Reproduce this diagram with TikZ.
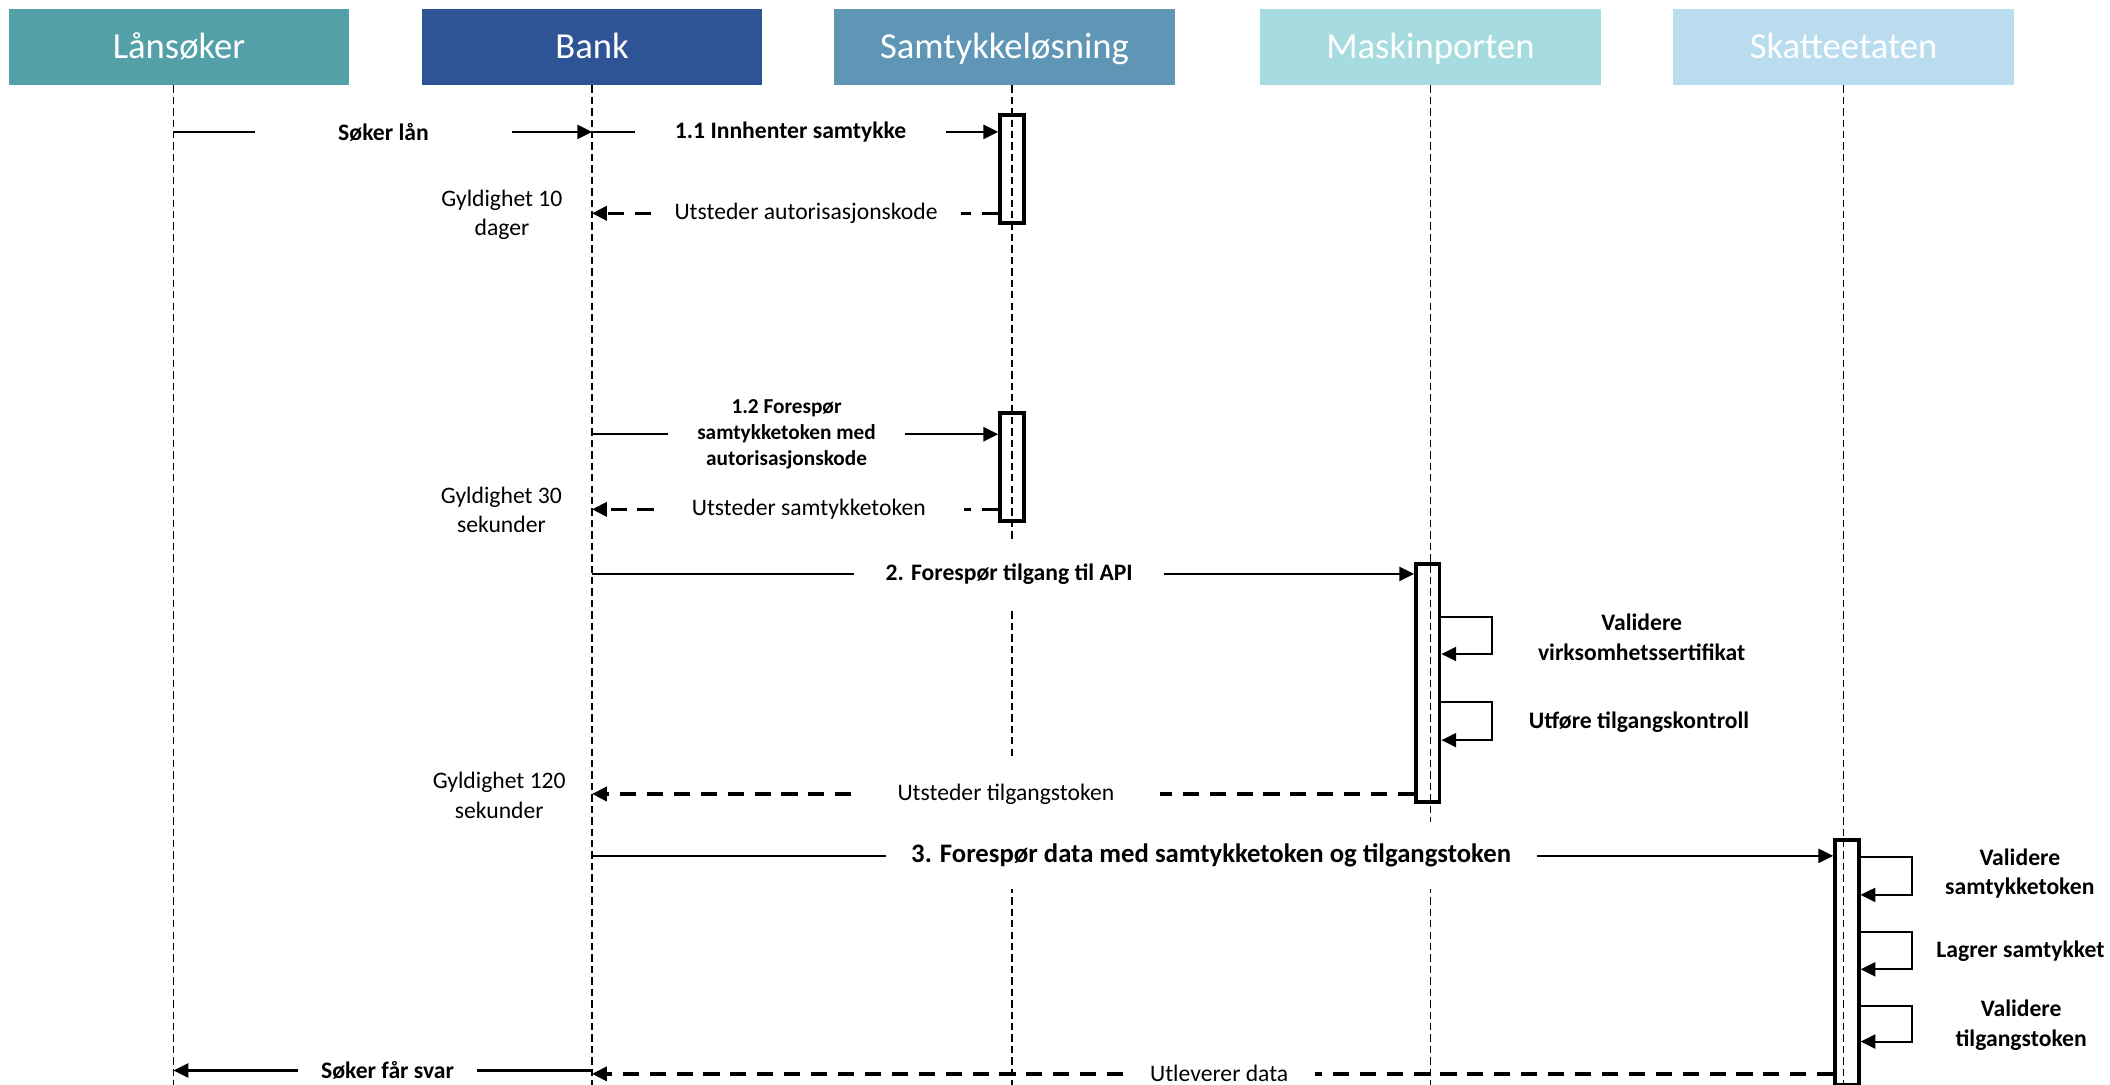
\documentclass[tikz,border=0pt]{standalone}
\usepackage{fontspec}
\setmainfont{Carlito}
\usetikzlibrary{arrows.meta,positioning}

\definecolor{colLaan}{RGB}{83,160,169}
\definecolor{colBank}{RGB}{46,84,150}
\definecolor{colSamt}{RGB}{95,150,182}
\definecolor{colMask}{RGB}{166,220,223}
\definecolor{colSkatt}{RGB}{185,221,238}

\begin{document}
\begin{tikzpicture}[
        x=0.02cm, y=-0.02cm,
        head node/.style={rectangle, minimum width=5.06cm, minimum height=1.12cm,
                text height=9.8pt, text depth=0pt,
                text=white, font=\fontsize{15.5}{18}\selectfont},
        life line/.style={line width=0.6pt, dash pattern=on 0.11cm off 0.06cm},
        act box/.style={draw, line width=1.6pt, minimum width=0.35cm, inner sep=0pt},
        msg label/.style={fill=white, inner sep=0pt, minimum height=1cm, align=center,
                font=\fontsize{10}{12.5}\selectfont},
        bold label/.style={msg label, font=\fontsize{10}{12.5}\selectfont\bfseries},
        note/.style={align=center, font=\fontsize{10}{12.5}\selectfont},
        side label/.style={align=center, font=\fontsize{10}{12.5}\selectfont\bfseries},
        msg line/.style={line width=0.85pt},
        return line/.style={line width=1.4pt, dash pattern=on 0.24cm off 0.16cm},
        arrow end/.style={-{Triangle[length=0.22cm,width=0.21cm]}},
    ]
    \useasboundingbox (0,0) rectangle (1568,806);

    % Headers and lifelines
    \foreach \n/\t/\c/\x in {laan/Lånsøker/colLaan/133, bank/Bank/colBank/440,
            samt/Samtykkeløsning/colSamt/746.5, mask/Maskinporten/colMask/1063,
            skatt/Skatteetaten/colSkatt/1370} {
            \node[head node, fill=\c] (\n) at (\x,35) {\t};
        }
    \foreach \n/\x in {laan/129, bank/440, samt/752, mask/1063, skatt/1370} {
            \coordinate (l-\n) at (\x,0);
            \draw[life line] (l-\n |- \n.south) -- (\x,806);
        }

    % Activation boxes
    \node[act box, minimum height=1.6cm] (act1) at (752,125.5) {};
    \node[act box, minimum height=1.6cm] (act2) at (752,347) {};
    \node[act box, minimum height=3.54cm] (act3) at (1061,507.5) {};
    \node[act box, minimum height=3.64cm] (act4) at (1372.5,715) {};

    % Søker lån
    \node[bold label, minimum width=3.8cm] (m1) at (285,98) {Søker lån};
    \draw[msg line] (l-laan |- m1) -- (m1.west);
    \draw[msg line, arrow end] (m1.east) -- (l-bank |- m1);

    % 1.1
    \node[bold label, minimum width=4.62cm] (m2) at (587.5,98) {1.1 Innhenter samtykke};
    \draw[msg line] (l-bank |- m2) -- (m2.west);
    \draw[msg line, arrow end] (m2.east) -- (act1.west |- m2);

    \node[msg label, minimum width=4.6cm] (r1) at (599,158.5) {Utsteder autorisasjonskode};
    \draw[return line] (act1.west |- r1) -- (r1.east);
    \draw[return line, arrow end] (r1.west) -- (l-bank |- r1);
    \node[note] (g1) at (373,159.5) {Gyldighet 10\\dager};

    % 1.2
    \node[bold label, minimum width=3.5cm, font=\fontsize{9}{11}\selectfont\bfseries]
        (m3) at (584.5,322.7) {1.2 Forespør\\samtykketoken med\\autorisasjonskode};
    \draw[msg line] (l-bank |- m3) -- (m3.west);
    \draw[msg line, arrow end] (m3.east) -- (act2.west |- m3);

    \node[msg label, minimum width=4.6cm] (r2) at (601,378.5) {Utsteder samtykketoken};
    \draw[return line] (act2.west |- r2) -- (r2.east);
    \draw[return line, arrow end] (r2.west) -- (l-bank |- r2);
    \node[note] (g2) at (372.6,379) {Gyldighet 30\\sekunder};

    % 2.
    \node[bold label, minimum width=4.6cm] (m4) at (750,426.5) {2. Forespør tilgang til API};
    \draw[msg line] (l-bank |- m4) -- (m4.west);
    \draw[msg line, arrow end] (m4.east) -- (act3.west |- m4);

    \draw[msg line, arrow end] (act3.east |- 0,458.5) -- ++(37.5,0) |- (act3.east |- 0,486);
    \node[side label] (v1) at (1220,473.5) {Validere\\virksomhetssertifikat};
    \draw[msg line, arrow end] (act3.east |- 0,522) -- ++(37.5,0) |- (act3.east |- 0,550);
    \node[side label] (v2) at (1218,537) {Utføre tilgangskontroll};

    \node[msg label, minimum width=4.58cm] (r3) at (747.5,590) {Utsteder tilgangstoken};
    \draw[return line] (act3.west |- r3) -- (r3.east);
    \draw[return line, arrow end] (r3.west) -- (l-bank |- r3);
    \node[note] (g3) at (371,591) {Gyldighet 120\\sekunder};

    % 3.
    \node[bold label, minimum width=9.66cm, font=\fontsize{11.3}{13.5}\selectfont\bfseries]
        (m5) at (900,636) {3. Forespør data med samtykketoken og tilgangstoken};
    \draw[msg line] (l-bank |- m5) -- (m5.west);
    \draw[msg line, arrow end] (m5.east) -- (act4.west |- m5);

    \draw[msg line, arrow end] (act4.east |- 0,636.6) -- ++(38,0) |- (act4.east |- 0,665);
    \node[side label] (v3) at (1501,649) {Validere\\samtykketoken};
    \draw[msg line, arrow end] (act4.east |- 0,692.3) -- ++(38,0) |- (act4.east |- 0,720.3);
    \node[side label] (v4) at (1501.5,707) {Lagrer samtykket};
    \draw[msg line, arrow end] (act4.east |- 0,747.6) -- ++(38,0) |- (act4.east |- 0,774);
    \node[side label] (v5) at (1502,762) {Validere\\tilgangstoken};

    % Svar
    \node[msg label, minimum width=2.84cm] (r4) at (906,798) {Utleverer data};
    \draw[return line] (act4.west |- r4) -- (r4.east);
    \draw[return line, arrow end] (r4.west) -- (l-bank |- r4);

    \node[bold label, minimum width=2.64cm] (m6) at (288,795.5) {Søker får svar};
    \draw[msg line] (l-bank |- m6) -- (m6.east);
    \draw[msg line, arrow end] (m6.west) -- (l-laan |- m6);
\end{tikzpicture}
\end{document}
